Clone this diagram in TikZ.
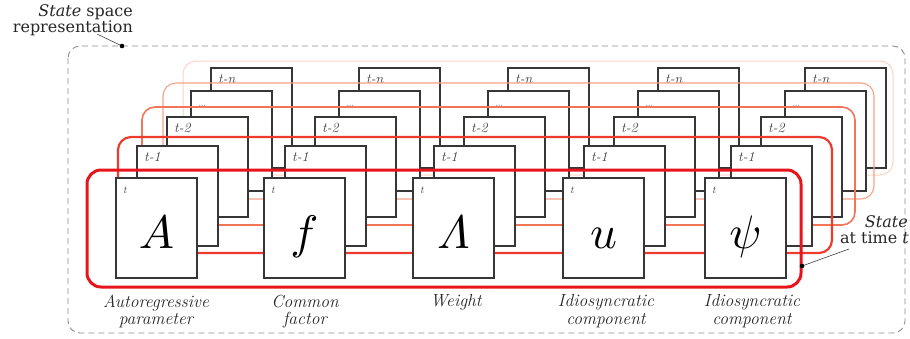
\documentclass[tikz,border=0pt]{standalone}
\usepackage{amsmath}
\usepackage{graphicx}
\usepackage{fontspec}
\newfontfamily\sidefont{DejaVu Serif}
\definecolor{boxc}{HTML}{363636}
\definecolor{labc}{HTML}{3C3C3C}
\definecolor{capc}{HTML}{262626}
\definecolor{dashc}{HTML}{8C8C8C}
\definecolor{layA}{HTML}{E8141C}
\definecolor{layB}{HTML}{EE3B2E}
\definecolor{layC}{HTML}{F27558}
\definecolor{layD}{HTML}{F6A287}
\definecolor{layE}{HTML}{FBD3C4}
\begin{document}
\begin{tikzpicture}[x=1pt,y=-1pt,
  bx/.style={draw=boxc, fill=white, line width=1.6pt, minimum width=81pt,
    minimum height=100pt, inner sep=0pt, outer sep=0pt},
  lbl/.style={inner sep=0pt, text=labc, font=\fontsize{14}{14}\selectfont\itshape},
  dotl/.style={inner sep=0pt, text=black!40, font=\fontsize{13}{13}\selectfont},
  tlbl/.style={inner sep=0pt, text=labc, font=\fontsize{10.5}{10.5}\selectfont\itshape},
  sym/.style={inner sep=0pt, text=black},
  captxt/.style={inner sep=0pt, text=capc, align=center,
    font=\fontsize{17.5}{17.5}\selectfont\itshape},
  side/.style={inner sep=0pt, text=capc, font=\sidefont\fontsize{16}{15}\selectfont},
  layer/.style={rounded corners=13pt},
  ptr/.style={draw=black!75, line width=0.6pt},
]
\useasboundingbox (0,0) rectangle (910,338);

% outer frame of the state space representation
\draw[draw=dashc, line width=0.9pt, dash pattern=on 6pt off 4pt, rounded corners=12pt]
  (68,46) rectangle (905,333);

% lagged copies, back to front; each level is followed by its red link
\foreach \lev/\ty/\dx/\txt/\sty/\lx/\ly/\rx/\ry/\col/\lw in {
    4/68/95/{t-n}/lbl/183/61/893/175/layE/1.0,
    3/91/75/{\dots}/dotl/163/83/874/199/layD/1.1,
    2/117/51/{t-2}/lbl/142/107/855/225/layC/1.6,
    1/146/21/{t-1}/lbl/118/137/832/253/layB/2.2} {
  \foreach \s/\bxx in {1/116, 2/264, 3/413, 4/563, 5/710} {
    \node[bx, anchor=north west] (b\s-\lev) at (\bxx+\dx,\ty) {};
    \node[\sty, anchor=base west] (l\s-\lev) at ([shift={(7,15)}]b\s-\lev.north west) {\txt};
  }
  \draw[layer, draw=\col, line width=\lw pt] (\lx,\ly) rectangle (\rx,\ry);
}

% current state boxes
\foreach \s/\fx/\sy in {1/116/{$A$}, 2/264/{$f$}, 3/413/{$\varLambda$}, 4/563/{$u$}, 5/705/{$\psi$}} {
  \node[bx, anchor=north west] (b\s-0) at (\fx,178) {};
  \node[tlbl, anchor=base west] (l\s-0) at ([shift={(7,15)}]b\s-0.north west) {t};
  \node[sym, anchor=base] (s\s) at (\fx+40.5,248) {\scalebox{4.7}{\sy}};
}

% state at time t
\draw[layer, draw=layA, line width=3pt, rounded corners=14pt] (87,170) rectangle (801,287);

% captions
\node[captxt, anchor=north] (c1) at (156,294.5) {Autoregressive\\parameter};
\node[captxt, anchor=north] (c2) at (305,294.5) {Common\\factor};
\node[captxt, anchor=north] (c3) at (456,294.5) {Weight};
\node[captxt, anchor=north] (c4) at (606,294.5) {Idiosyncratic\\component};
\node[captxt, anchor=north] (c5) at (752,294.5) {Idiosyncratic\\component};

% side labels with pointers
\node[side, anchor=base east] (ssr1) at (133,16.5) {\textit{State} space};
\node[side, anchor=base east] (ssr2) at (133,32) {representation};
\coordinate (ssrtail) at (97,34);
\coordinate (ssrdot) at (122,46);
\draw[ptr] (ssrtail) -- (ssrdot);
\fill[black] (ssrdot) circle (2.3pt);

\node[side, anchor=base east] (stt1) at (908,227) {\textit{State}};
\node[side, anchor=base east] (stt2) at (909,243) {at time \textit{t}};
\coordinate (sttdot) at (802,266);
\coordinate (stttail) at (849,249);
\draw[ptr] (sttdot) -- (stttail);
\fill[black] (sttdot) circle (2.3pt);
\end{tikzpicture}
\end{document}
